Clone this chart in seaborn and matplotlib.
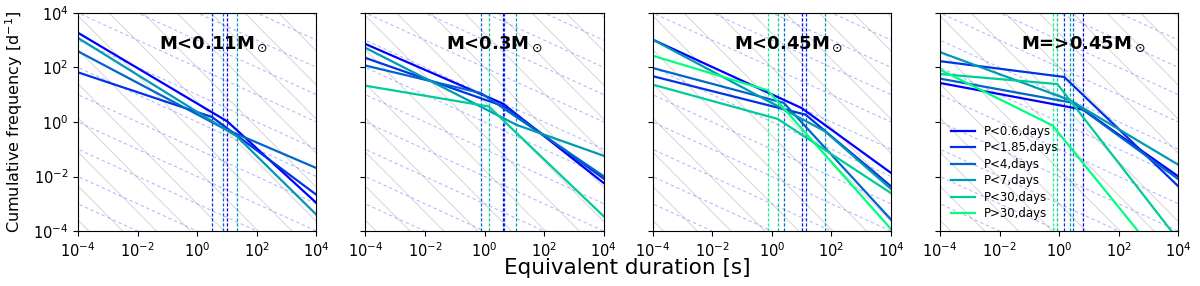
import numpy as np
import pandas as pd
import seaborn as sns
import matplotlib.pyplot as plt
from matplotlib.ticker import NullLocator

periods = ['P<0.6,days', 'P<1.85,days', 'P<4,days', 'P<7,days', 'P<30,days', 'P>30,days']
mass_bins = [r'M<0.11M$_\odot$', r'M<0.3M$_\odot$', r'M<0.45M$_\odot$', r'M=>0.45M$_\odot$']

nan = np.nan
# all values are log10
# brk = break in equivalent duration, lo = freq at ED=1e-4, knee = freq at break, hi = freq at ED=1e4
brk_m011 = [1.01, 0.50, 0.86, 1.33, nan, nan]
lo_m011 = [3.27, 1.82, 2.59, 3.08, nan, nan]
knee_m011 = [0.02, 0.18, -0.22, -0.53, nan, nan]
hi_m011 = [-2.97, -2.67, -1.69, -3.40, nan, nan]

brk_m03 = [0.62, 0.66, -0.12, 1.06, 0.14, nan]
lo_m03 = [2.86, 2.35, 2.07, 2.72, 1.33, nan]
knee_m03 = [0.67, 0.57, 1.06, -0.10, 0.57, nan]
hi_m03 = [-2.24, -2.08, -1.99, -1.24, -3.46, nan]

brk_m045 = [1.00, 1.13, 0.40, 1.78, 0.20, -0.14]
lo_m045 = [3.02, 1.68, 1.98, 3.02, 1.37, 2.43]
knee_m045 = [0.51, 0.27, 0.70, -0.34, 0.11, 1.16]
hi_m045 = [-1.87, -2.36, -3.58, -2.46, -2.61, -3.93]

brk_mhi = [0.81, 0.17, 0.48, 0.36, -0.06, -0.22]
lo_mhi = [1.43, 2.23, 1.59, 2.56, 1.76, 1.92]
knee_mhi = [0.45, 1.65, 0.70, 0.80, 1.39, -0.13]
hi_mhi = [-2.00, -2.36, -2.10, -1.57, -4.33, -5.83]

panels = [
    (brk_m011, lo_m011, knee_m011, hi_m011),
    (brk_m03, lo_m03, knee_m03, hi_m03),
    (brk_m045, lo_m045, knee_m045, hi_m045),
    (brk_mhi, lo_mhi, knee_mhi, hi_mhi),
]

colors = plt.cm.winter(np.linspace(0, 1, len(periods)))
pal = dict(zip(periods, colors))

fig, axes = plt.subplots(1, 4, figsize=(12, 2.86), sharey=True)
fig.subplots_adjust(left=0.065, right=0.982, top=0.955, bottom=0.192, wspace=0.205)

xs = np.array([1e-6, 1e6])
for i, ax in enumerate(axes):
    brk, lo, knee, hi = panels[i]
    ax.set_xscale('log')
    ax.set_yscale('log')

    # background guide lines
    for k in np.arange(-8, 14, 1.25):
        ax.plot(xs, 10**k * xs**-1.1, color='0.84', lw=0.7, zorder=0)
    for k in range(-10, 10):
        ax.plot(xs, 10.0**k * xs**-0.5, color=(0.5, 0.5, 1), alpha=0.55,
                lw=0.8, ls=(0, (3, 2.5)), zorder=0)

    rows = []
    for j, p in enumerate(periods):
        if np.isnan(brk[j]):
            continue
        rows.append((1e-4, 10**lo[j], p))
        rows.append((10**brk[j], 10**knee[j], p))
        rows.append((1e4, 10**hi[j], p))
        ax.axvline(10**brk[j], color=colors[j], ls=(0, (2.5, 1.5)), lw=0.9, zorder=1)
    df = pd.DataFrame(rows, columns=['ed', 'freq', 'period'])

    sns.lineplot(data=df, x='ed', y='freq', hue='period', palette=pal,
                 estimator=None, sort=False, lw=1.6, ax=ax, legend=(i == 3))

    ax.text(0.34, 0.855, mass_bins[i], transform=ax.transAxes,
            fontsize=13, fontweight='bold', va='center')

    ax.set_xlim(1e-4, 1e4)
    ax.set_ylim(1e-4, 1e4)
    ax.set_xticks([1e-4, 1e-2, 1, 1e2, 1e4])
    ax.set_yticks([1e-4, 1e-2, 1, 1e2, 1e4])
    ax.xaxis.set_minor_locator(NullLocator())
    ax.yaxis.set_minor_locator(NullLocator())
    ax.tick_params(labelsize=10.5)
    ax.set_xlabel('')
    ax.set_ylabel('')

axes[0].set_ylabel('Cumulative frequency [d$^{-1}$]', fontsize=11.5, labelpad=6)
fig.text(0.523, 0.063, 'Equivalent duration [s]', fontsize=15.5, ha='center', va='center')

sns.move_legend(axes[3], 'lower left', frameon=False, title=None, fontsize=8.5,
                labelspacing=0.3, handlelength=2.1, handletextpad=0.7)

fig.savefig('out.png', dpi=100)
